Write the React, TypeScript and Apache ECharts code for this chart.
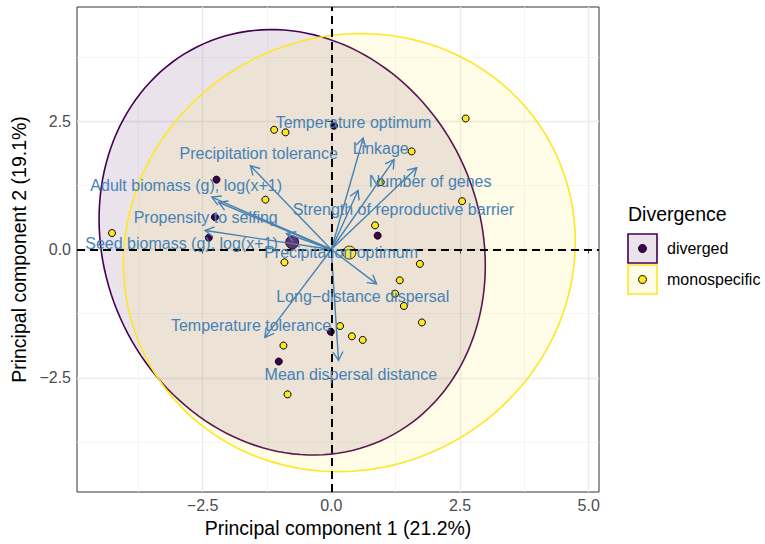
import React, { useEffect, useRef } from 'react';
import * as echarts from 'echarts';

const FONT = '"Liberation Sans", Arial, Helvetica, sans-serif';

// Individual observations (PC1, PC2)
const divergedX = [-2.23, -2.26, -2.38, 0.05, 0.9, -0.01, -1.02];
const divergedY = [1.36, 0.63, 0.23, 2.41, 0.27, -1.6, -2.18];
const monoX = [-1.11, -0.89, -1.28, -4.26, -0.91, 2.61, 1.56, 0.96, 2.54, 0.85, 1.72, 1.33, 1.24, 1.41, 1.76, 0.17, 0.4, 0.61, -0.93, -0.85];
const monoY = [2.33, 2.28, 0.97, 0.32, -0.25, 2.55, 1.91, 1.31, 0.94, 0.47, -0.28, -0.6, -0.86, -1.1, -1.42, -1.49, -1.69, -1.76, -1.87, -2.82];

// Group centroids
const groups = ['diverged', 'monospecific'];
const centroidX = [-0.76, 0.35];
const centroidY = [0.14, -0.06];

// Group ellipses: semi-axes and rotation (degrees)
const ellipseA = [3.65, 4.45];
const ellipseB = [4.23, 4.2];
const ellipseAngle = [23.9, 30];

// Variable loadings (arrow tips) and label anchors
const varNames = [
  'Temperature optimum',
  'Linkage',
  'Number of genes',
  'Strength of reproductive barrier',
  'Precipitation tolerance',
  'Adult biomass (g), log(x+1)',
  'Propensity to selfing',
  'Seed biomass (g), log(x+1)',
  'Precipitation optimum',
  'Long\u2212distance dispersal',
  'Temperature tolerance',
  'Mean dispersal distance',
];
const loadX = [0.62, 1.22, 1.66, 0.52, -1.57, -2.32, -2.19, -2.45, -0.87, 0.88, -1.29, 0.14];
const loadY = [2.17, 1.75, 1.59, 1.15, 1.63, 1.02, 0.92, 0.37, 0.31, -0.67, -1.71, -2.16];
const labelX = [0.43, 0.96, 1.92, 1.4, -1.41, -2.82, -2.44, -2.91, 0.19, 0.61, -1.56, 0.38];
const labelY = [2.47, 1.96, 1.33, 0.77, 1.87, 1.25, 0.63, 0.11, -0.05, -0.91, -1.48, -2.44];

const xMajor = [-2.5, 0, 2.5, 5];
const xMinor = [-3.75, -1.25, 1.25, 3.75];
const yMajor = [-2.5, 0, 2.5];
const yMinor = [-3.75, -1.25, 1.25, 3.75];

const X_MIN = -4.94, X_MAX = 5.2, Y_MIN = -4.72, Y_MAX = 4.72;

const PURPLE = '#440154';
const YELLOW = '#FDE725';
const FILLS = ['rgba(68,1,84,0.11)', 'rgba(253,231,37,0.11)'];
const ARROW = '#4682B4';

const fmt = (v: number) => (v < 0 ? '\u2212' : '') + Math.abs(v).toFixed(1);

export default function App() {
  const ref = useRef<HTMLDivElement>(null);
  useEffect(() => {
    if (!ref.current) return;
    const chart = echarts.init(ref.current, undefined, { renderer: 'svg' });

    const majorLine = { show: true, lineStyle: { color: '#EBEBEB', width: 1.3 } };
    const minorLine = { show: true, lineStyle: { color: '#F3F3F3', width: 0.8 } };

    const ellipseData = groups.map((_, i) => [centroidX[i], centroidY[i], ellipseA[i], ellipseB[i], ellipseAngle[i], i]);

    const option: any = {
      animation: false,
      backgroundColor: '#ffffff',
      grid: {
        left: 77, top: 7, width: 522, height: 485,
        show: true, borderColor: '#333333', borderWidth: 1, backgroundColor: 'transparent',
      },
      xAxis: [
        {
          type: 'value', min: X_MIN, max: X_MAX, position: 'bottom',
          name: 'Principal component 1 (21.2%)', nameLocation: 'middle', nameGap: 25,
          nameTextStyle: { fontSize: 19.5, color: '#000', fontFamily: FONT },
          axisLine: { show: false },
          axisTick: { show: true, length: 4, customValues: xMajor, lineStyle: { color: '#333333', width: 1 } },
          axisLabel: { show: true, customValues: xMajor, formatter: fmt, fontSize: 16, color: '#4D4D4D', fontFamily: FONT, margin: 5 },
          splitLine: majorLine,
        },
        {
          type: 'value', min: X_MIN, max: X_MAX, position: 'bottom',
          axisLine: { show: false },
          axisTick: { show: false, customValues: xMinor },
          axisLabel: { show: false },
          splitLine: minorLine,
        },
      ],
      yAxis: [
        {
          type: 'value', min: Y_MIN, max: Y_MAX, position: 'left',
          name: 'Principal component 2 (19.1%)', nameLocation: 'middle', nameGap: 44,
          nameTextStyle: { fontSize: 19.5, color: '#000', fontFamily: FONT },
          axisLine: { show: false },
          axisTick: { show: true, length: 4, customValues: yMajor, lineStyle: { color: '#333333', width: 1 } },
          axisLabel: { show: true, customValues: yMajor, formatter: fmt, fontSize: 16, color: '#4D4D4D', fontFamily: FONT, margin: 6 },
          splitLine: majorLine,
        },
        {
          type: 'value', min: Y_MIN, max: Y_MAX, position: 'left',
          axisLine: { show: false },
          axisTick: { show: false, customValues: yMinor },
          axisLabel: { show: false },
          splitLine: minorLine,
        },
      ],
      series: [
        {
          type: 'custom', name: 'ellipses', xAxisIndex: 0, yAxisIndex: 0,
          data: ellipseData, encode: { x: 0, y: 1 }, silent: true, z: 1,
          renderItem: (params: any, api: any) => {
            const cx = api.value(0), cy = api.value(1), a = api.value(2), b = api.value(3);
            const th = (api.value(4) * Math.PI) / 180;
            const g = api.value(5);
            const pts: number[][] = [];
            const N = 160;
            for (let k = 0; k < N; k++) {
              const t = (2 * Math.PI * k) / N;
              const ex = cx + a * Math.cos(t) * Math.cos(th) - b * Math.sin(t) * Math.sin(th);
              const ey = cy + a * Math.cos(t) * Math.sin(th) + b * Math.sin(t) * Math.cos(th);
              pts.push(api.coord([ex, ey]));
            }
            return {
              type: 'polygon', shape: { points: pts },
              style: { fill: FILLS[g], stroke: g === 0 ? PURPLE : YELLOW, lineWidth: 1.6 },
            };
          },
        },
        {
          type: 'scatter', name: 'zero-lines', xAxisIndex: 0, yAxisIndex: 0, z: 2,
          data: [[0, 0]], symbolSize: 0, silent: true,
          markLine: {
            silent: true, symbol: 'none', label: { show: false },
            lineStyle: { color: '#000000', type: [8, 5], width: 2 },
            data: [{ xAxis: 0 }, { yAxis: 0 }],
          },
        },
        {
          type: 'scatter', name: 'diverged', xAxisIndex: 0, yAxisIndex: 0, z: 3,
          data: divergedX.map((x, i) => [x, divergedY[i]]),
          symbolSize: 7, itemStyle: { color: PURPLE, borderColor: '#000', borderWidth: 1, opacity: 1 },
        },
        {
          type: 'scatter', name: 'monospecific', xAxisIndex: 0, yAxisIndex: 0, z: 3,
          data: monoX.map((x, i) => [x, monoY[i]]),
          symbolSize: 7, itemStyle: { color: YELLOW, borderColor: '#000', borderWidth: 1, opacity: 1 },
        },
        {
          type: 'scatter', name: 'centroids', xAxisIndex: 0, yAxisIndex: 0, z: 3,
          data: groups.map((g, i) => ({
            value: [centroidX[i], centroidY[i]],
            itemStyle: { color: i === 0 ? PURPLE : YELLOW, borderColor: '#000', borderWidth: 1 },
          })),
          symbolSize: 13,
        },
        {
          type: 'custom', name: 'arrows', xAxisIndex: 0, yAxisIndex: 0, z: 4, silent: true,
          data: loadX.map((x, i) => [x, loadY[i]]), encode: { x: 0, y: 1 },
          renderItem: (params: any, api: any) => {
            const p0 = api.coord([0, 0]);
            const p1 = api.coord([api.value(0), api.value(1)]);
            const ang = Math.atan2(p1[1] - p0[1], p1[0] - p0[0]);
            const L = 10, h = Math.PI / 6;
            const a1 = [p1[0] - L * Math.cos(ang - h), p1[1] - L * Math.sin(ang - h)];
            const a2 = [p1[0] - L * Math.cos(ang + h), p1[1] - L * Math.sin(ang + h)];
            return {
              type: 'group',
              children: [
                { type: 'line', shape: { x1: p0[0], y1: p0[1], x2: p1[0], y2: p1[1] }, style: { stroke: ARROW, lineWidth: 1.4 } },
                { type: 'polyline', shape: { points: [a1, p1, a2] }, style: { stroke: ARROW, lineWidth: 1.4, fill: 'none' } },
              ],
            };
          },
        },
        {
          type: 'custom', name: 'varLabels', xAxisIndex: 0, yAxisIndex: 0, z: 5, silent: true,
          data: labelX.map((x, i) => [x, labelY[i], i]), encode: { x: 0, y: 1 },
          renderItem: (params: any, api: any) => {
            const p = api.coord([api.value(0), api.value(1)]);
            const i = api.value(2);
            return {
              type: 'text', x: p[0], y: p[1],
              style: { text: varNames[i], fill: ARROW, fontSize: 16, fontFamily: FONT, align: 'center', verticalAlign: 'middle' },
            };
          },
        },
      ],
      graphic: [
        { type: 'text', left: 628, top: 204, style: { text: 'Divergence', fontSize: 19.5, fontFamily: FONT, fill: '#000' } },
        { type: 'rect', shape: { x: 628, y: 234, width: 29, height: 29 }, style: { fill: '#FFFFFF', stroke: 'none' } },
        { type: 'rect', shape: { x: 628, y: 234, width: 29, height: 29 }, style: { fill: FILLS[0], stroke: PURPLE, lineWidth: 1.6 } },
        { type: 'circle', shape: { cx: 642.5, cy: 248.5, r: 4 }, style: { fill: PURPLE, stroke: '#000', lineWidth: 1 } },
        { type: 'text', x: 667, y: 248.5, style: { text: 'diverged', fontSize: 16, fontFamily: FONT, fill: '#000', verticalAlign: 'middle' } },
        { type: 'rect', shape: { x: 628, y: 265, width: 29, height: 29 }, style: { fill: FILLS[1], stroke: YELLOW, lineWidth: 1.6 } },
        { type: 'circle', shape: { cx: 642.5, cy: 279.5, r: 4 }, style: { fill: YELLOW, stroke: '#000', lineWidth: 1 } },
        { type: 'text', x: 667, y: 279.5, style: { text: 'monospecific', fontSize: 16, fontFamily: FONT, fill: '#000', verticalAlign: 'middle' } },
      ],
    };
    chart.setOption(option);
    return () => chart.dispose();
  }, []);
  return <div ref={ref} style={{ position: 'fixed', left: 0, top: 0, width: 765, height: 544, background: '#fff' }} />;
}
